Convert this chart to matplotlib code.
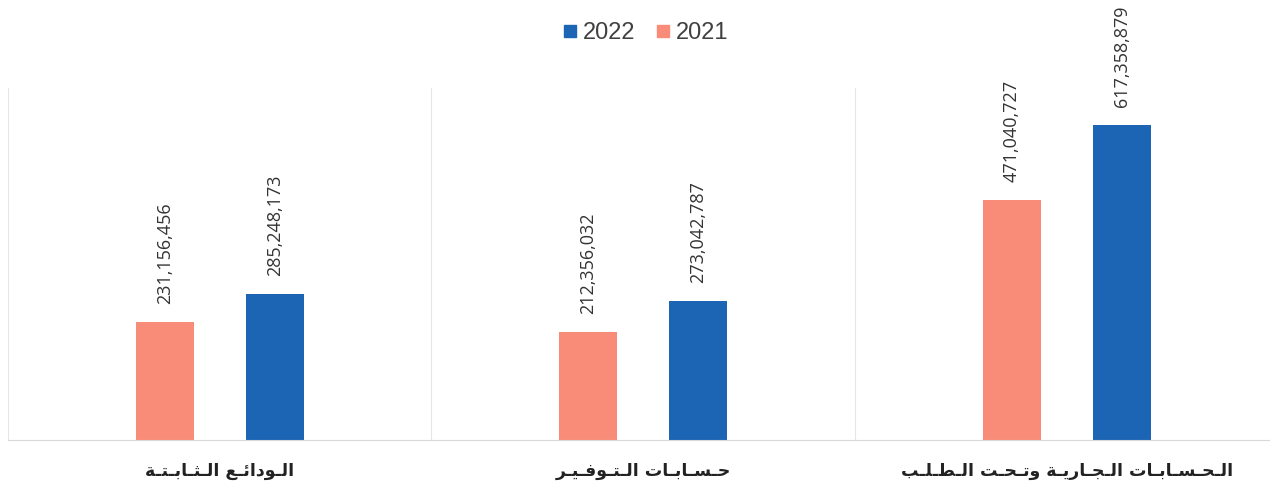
import matplotlib
matplotlib.use("Agg")
import matplotlib.pyplot as plt
from matplotlib.lines import Line2D

# data
categories = ["الودائع الثابتة", "حسابات التوفير", "الحسابات الجارية وتحت الطلب"]
values_2021 = [231156456, 212356032, 471040727]
values_2022 = [285248173, 273042787, 617358879]
years = ["2022", "2021"]

color_2021 = "#f98b79"
color_2022 = "#1c64b4"

# Arabic presentation forms: isolated, final, initial, medial
FORMS = {
    "ا": ("\uFE8D", "\uFE8E", None, None),
    "ب": ("\uFE8F", "\uFE90", "\uFE91", "\uFE92"),
    "ة": ("\uFE93", "\uFE94", None, None),
    "ت": ("\uFE95", "\uFE96", "\uFE97", "\uFE98"),
    "ث": ("\uFE99", "\uFE9A", "\uFE9B", "\uFE9C"),
    "ج": ("\uFE9D", "\uFE9E", "\uFE9F", "\uFEA0"),
    "ح": ("\uFEA1", "\uFEA2", "\uFEA3", "\uFEA4"),
    "د": ("\uFEA9", "\uFEAA", None, None),
    "ر": ("\uFEAD", "\uFEAE", None, None),
    "س": ("\uFEB1", "\uFEB2", "\uFEB3", "\uFEB4"),
    "ط": ("\uFEC1", "\uFEC2", "\uFEC3", "\uFEC4"),
    "ع": ("\uFEC9", "\uFECA", "\uFECB", "\uFECC"),
    "ف": ("\uFED1", "\uFED2", "\uFED3", "\uFED4"),
    "ل": ("\uFEDD", "\uFEDE", "\uFEDF", "\uFEE0"),
    "و": ("\uFEED", "\uFEEE", None, None),
    "ي": ("\uFEF1", "\uFEF2", "\uFEF3", "\uFEF4"),
    "ئ": ("\uFE89", "\uFE8A", "\uFE8B", "\uFE8C"),
}


def shape_arabic(text, stretch=True):
    # join letters by hand (matplotlib does no Arabic shaping), then put in visual order
    out = []
    for i, ch in enumerate(text):
        if ch not in FORMS:
            out.append(ch)
            continue
        prev = text[i - 1] if i > 0 else ""
        nxt = text[i + 1] if i < len(text) - 1 else ""
        joins_prev = prev in FORMS and FORMS[prev][2] is not None
        joins_next = nxt in FORMS and FORMS[ch][2] is not None
        iso, fin, ini, med = FORMS[ch]
        if joins_prev and joins_next:
            out.append(med)
        elif joins_prev:
            out.append(fin)
        elif joins_next:
            out.append(ini)
        else:
            out.append(iso)
        if joins_next and stretch:
            out.append("\u0640")
    return "".join(out)[::-1]


fig = plt.figure(figsize=(12.70, 4.88), dpi=100)
ax = fig.add_axes([8 / 1270, 48 / 488, 1262 / 1270, 352 / 488])

x = range(len(categories))
w = 0.137
off = 0.13
bars_2021 = ax.bar([i - off for i in x], values_2021, w, color=color_2021)
bars_2022 = ax.bar([i + off for i in x], values_2022, w, color=color_2022)

for bars, vals in [(bars_2021, values_2021), (bars_2022, values_2022)]:
    for b, v in zip(bars, vals):
        ax.annotate(f"{v:,}", (b.get_x() + b.get_width() / 2, v),
                    xytext=(0, 13), textcoords="offset points",
                    rotation=90, ha="center", va="bottom",
                    fontsize=13, family="Open Sans", color="#333333")

ax.set_xlim(-0.5, 2.48)
ax.set_ylim(0, 690e6)

# light separators between categories
for xb in [-0.5, 0.5, 1.5]:
    ax.axvline(xb, color="#e6e6e6", lw=0.8, zorder=0)

for s in ["top", "right", "left"]:
    ax.spines[s].set_visible(False)
ax.spines["bottom"].set_color("#d9d9d9")
ax.set_yticks([])
ax.set_xticks(list(x))
ax.set_xticklabels([shape_arabic(c) for c in categories],
                   fontsize=12.5, fontweight="bold", family="DejaVu Sans",
                   color="#222222")
ax.tick_params(axis="x", length=0, pad=16)

handles = [Line2D([], [], marker="s", ls="", color=color_2022, markersize=9),
           Line2D([], [], marker="s", ls="", color=color_2021, markersize=9)]
fig.legend(handles, years, loc="center", bbox_to_anchor=(645 / 1270, 1 - 33 / 488),
           ncol=2, frameon=False, handlelength=0.7, handletextpad=0.2,
           columnspacing=0.8, labelcolor="#404040",
           prop={"family": "Liberation Sans", "size": 17})

fig.savefig("out.png", dpi=100)
